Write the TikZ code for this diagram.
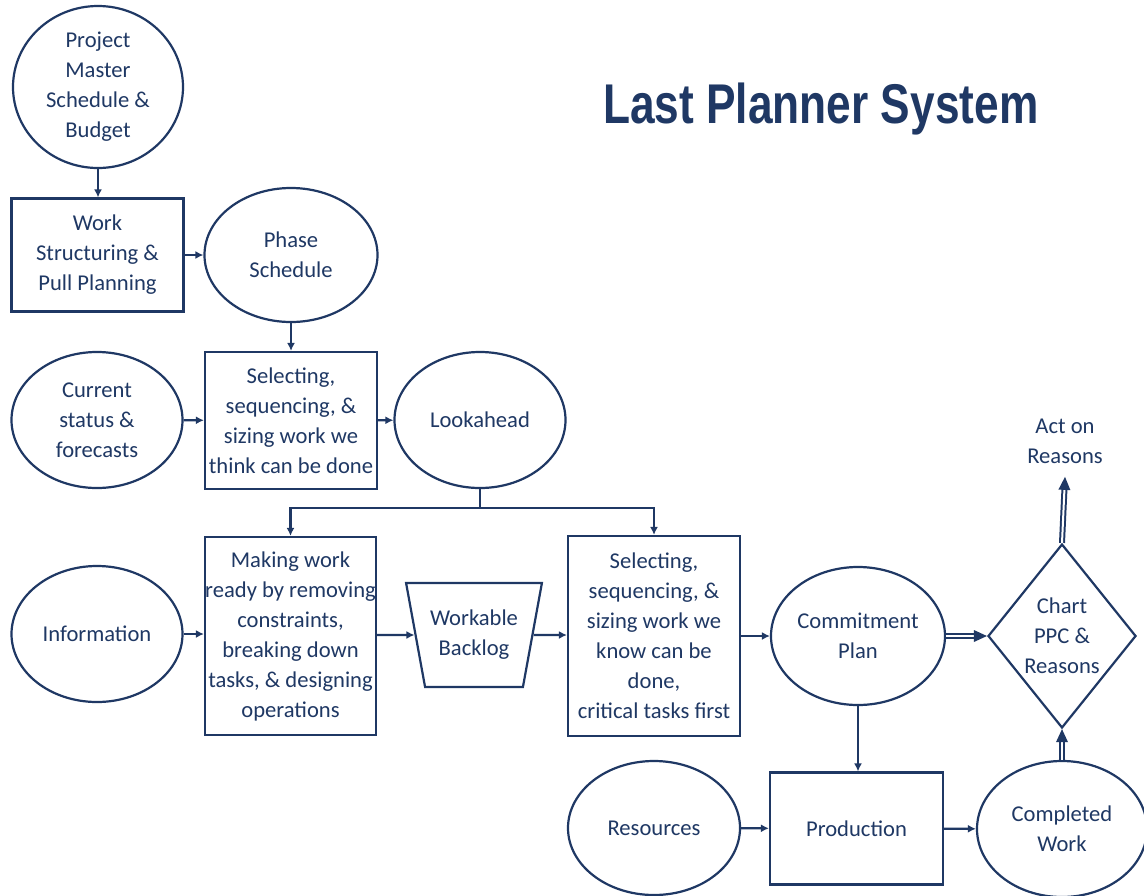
\documentclass[tikz,border=0pt]{standalone}
\usepackage{fontspec}
\usepackage{graphicx}
\setmainfont{Carlito}
\newfontfamily\titlefont{Liberation Sans}
\usetikzlibrary{shapes.geometric,arrows.meta,decorations.markings}
\definecolor{navy}{HTML}{1F3864}
\begin{document}
\begin{tikzpicture}[x=1pt,y=-1pt,
  every node/.style={text=navy, font=\fontsize{22.6}{30}\selectfont, align=center},
  shp/.style={draw=navy, line width=2.2pt},
  oval/.style={shp, ellipse, inner sep=-30pt, minimum width=171pt, minimum height=136pt},
  box/.style={shp, rectangle, inner sep=0pt, minimum width=172pt},
  arr/.style={draw=navy, line width=2.2pt, -{Latex[length=8pt,width=8pt]}},
  plain/.style={draw=navy, line width=2.2pt},
  dbl/.style={draw=navy, line width=2pt, double=white, double distance=2pt, shorten >=10pt,
    postaction={decorate},
    decoration={markings, mark=at position 1 with {\fill[navy] (0pt,0pt) -- (-13pt,6pt) -- (-13pt,-6pt) -- cycle;}}}
]
\fill[white] (0,0) rectangle (1144,895);
\useasboundingbox (0,0) rectangle (1144,895);

\node[font=\titlefont\bfseries\fontsize{56}{60}\selectfont, anchor=base west, inner sep=0pt] (title) at (603,123) {\scalebox{0.79}[1]{Last Planner System}};

\node[oval, minimum width=170pt, minimum height=162pt] (pm) at (98,87) {Project\\Master\\Schedule \&\\Budget};
\node[box, minimum height=113pt] (ws) at (97.5,255) {Work\\Structuring \&\\Pull Planning};
\node[oval, minimum width=173pt, minimum height=134pt] (ph) at (291,255) {Phase\\Schedule};
\node[oval] (cs) at (97,420) {Current\\status \&\\forecasts};
\node[box, minimum height=137pt] (s1) at (291,420.5) {Selecting,\\sequencing, \&\\sizing work we\\think can be done};
\node[oval] (lk) at (480,420) {Lookahead};
\node[oval] (inf) at (97,634) {Information};
\node[box, minimum width=171pt, minimum height=198pt] (mk) at (290.5,636) {Making work\\ready by removing\\constraints,\\breaking down\\tasks, \& designing\\operations};
\node[shp, trapezium, trapezium angle=71, trapezium stretches=true, shape border rotate=180, minimum width=136pt, minimum height=104pt, inner sep=0pt] (wb) at (474,635) {Workable\\Backlog};
\node[box, minimum height=200pt] (s2) at (654,636) {Selecting,\\sequencing, \&\\sizing work we\\know can be\\done,\\critical tasks first};
\node[oval, minimum width=174pt, minimum height=138pt] (cp) at (858,636) {Commitment\\Plan};
\node[shp, diamond, inner sep=-30pt, minimum width=148pt, minimum height=184pt] (ch) at (1062,636) {Chart\\PPC \&\\Reasons};
\node (act) at (1065,441) {Act on\\Reasons};
\node[oval, minimum width=172pt, minimum height=134pt] (rs) at (654,828) {Resources};
\node[box, minimum width=173pt, minimum height=112pt] (pr) at (856.5,828.5) {Production};
\node[oval, minimum width=170pt, minimum height=136pt] (cw) at (1062,829) {Completed\\Work};

\draw[arr] (pm.south) -- (pm.south |- ws.north);
\draw[arr] (ws) -- (ph);
\draw[arr] (ph) -- (s1);
\draw[arr] (cs) -- (s1);
\draw[arr] (s1) -- (lk);
\coordinate (split) at (480,508);
\draw[plain] (lk.south) -- (split);
\draw[arr] (split) -| (mk.north);
\draw[arr] (split) -| (s2.north);
\draw[arr] (inf.east) -- (inf.east -| mk.west);
\draw[arr] (mk.east |- wb.center) -- (wb);
\draw[arr] (wb) -- (s2.west |- wb.center);
\draw[arr] (s2) -- (cp);
\draw[dbl] (cp) -- (ch);
\draw[dbl] (ch.north) -- ([yshift=-10pt]act.south);
\draw[dbl] (cw) -- (ch.south);
\draw[arr] (cp.south) -- (cp.south |- pr.north);
\draw[arr] (rs) -- (pr);
\draw[arr] (pr) -- (cw);
\end{tikzpicture}
\end{document}
